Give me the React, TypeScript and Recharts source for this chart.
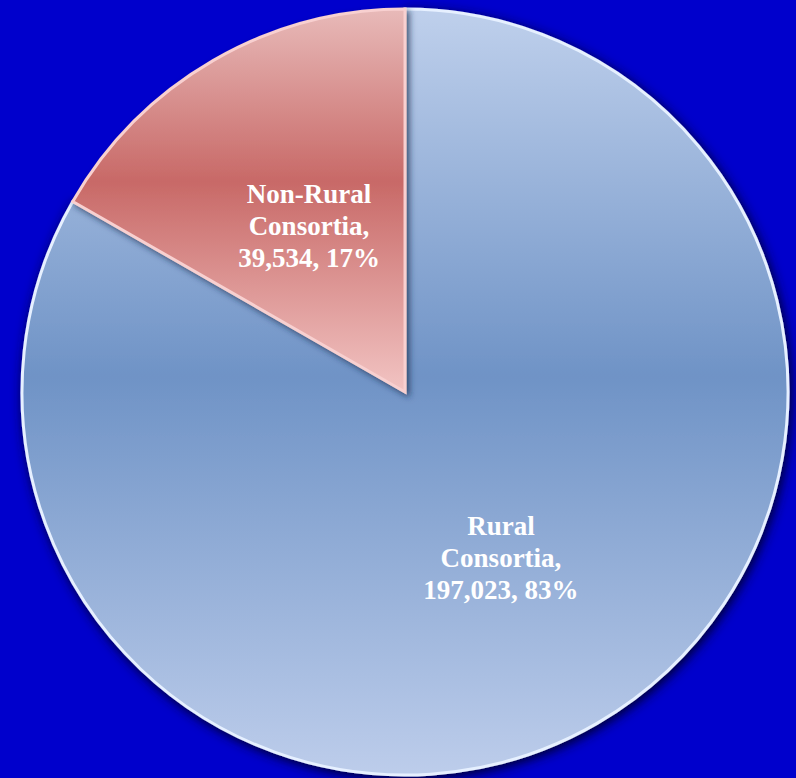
import { PieChart, Pie, Cell } from "recharts";

const categories = ["Rural Consortia", "Non-Rural Consortia"];
const counts = [197023, 39534];
const percents = [83, 17];

const fills = ["url(#ruralFill)", "url(#nonRuralFill)"];
const strokes = ["#E6F0FF", "#F8D0D0"];

const data = categories.map((name, i) => ({
  name,
  value: counts[i],
  pct: percents[i],
}));

const RADIAN = Math.PI / 180;

function renderLabel(props: any) {
  const { cx, cy, midAngle, outerRadius, index } = props;
  const r = outerRadius * 0.5;
  const x = cx + r * Math.cos(-midAngle * RADIAN);
  const y = cy + r * Math.sin(-midAngle * RADIAN);
  const d = data[index];
  const words = d.name.split(" ");
  const lines = [words[0], words.slice(1).join(" ") + ",", `${d.value.toLocaleString("en-US")}, ${d.pct}%`];
  return (
    <text
      x={x}
      y={y}
      textAnchor="middle"
      fill="#FFFFFF"
      fontFamily='"Liberation Serif", "Times New Roman", serif'
      fontWeight="bold"
      fontSize={27}
    >
      {lines.map((l, i) => (
        <tspan key={i} x={x} y={y + (i - 1) * 32 + 9}>
          {l}
        </tspan>
      ))}
    </text>
  );
}

export default function App() {
  return (
    <div
      style={{
        position: "absolute",
        left: 0,
        top: 0,
        width: 796,
        height: 778,
        background: "#0000CC",
        overflow: "hidden",
      }}
    >
      <svg width={0} height={0} style={{ position: "absolute" }}>
        <defs>
          <linearGradient id="ruralFill" x1="0" y1="0" x2="0" y2="1">
            <stop offset="0%" stopColor="#BFD0EC" />
            <stop offset="48%" stopColor="#6F93C6" />
            <stop offset="100%" stopColor="#BDCDEB" />
          </linearGradient>
          <linearGradient id="nonRuralFill" x1="0" y1="0" x2="0" y2="1">
            <stop offset="0%" stopColor="#E8BAB9" />
            <stop offset="45%" stopColor="#C86967" />
            <stop offset="100%" stopColor="#F2C4C3" />
          </linearGradient>
          <filter id="pieShadow" x="-10%" y="-10%" width="120%" height="120%">
            <feDropShadow dx="2" dy="3" stdDeviation="6" floodColor="#00002A" floodOpacity="1" />
          </filter>
          <filter id="sliceShadow" x="-10%" y="-10%" width="120%" height="120%">
            <feDropShadow dx="3" dy="3" stdDeviation="3" floodColor="#1E2E50" floodOpacity="0.75" />
          </filter>
        </defs>
      </svg>
      <PieChart width={796} height={778} margin={{ top: 0, right: 0, bottom: 0, left: 0 }}>
        <Pie
          data={data}
          dataKey="value"
          nameKey="name"
          cx={405}
          cy={392}
          outerRadius={383}
          startAngle={90}
          endAngle={-270}
          stroke="none"
          label={renderLabel}
          labelLine={false}
          isAnimationActive={false}
        >
          {data.map((_, i) => (
            <Cell
              key={i}
              fill={fills[i]}
              stroke={strokes[i]}
              strokeWidth={3}
              filter={i === 0 ? "url(#pieShadow)" : "url(#sliceShadow)"}
            />
          ))}
        </Pie>
      </PieChart>
    </div>
  );
}
